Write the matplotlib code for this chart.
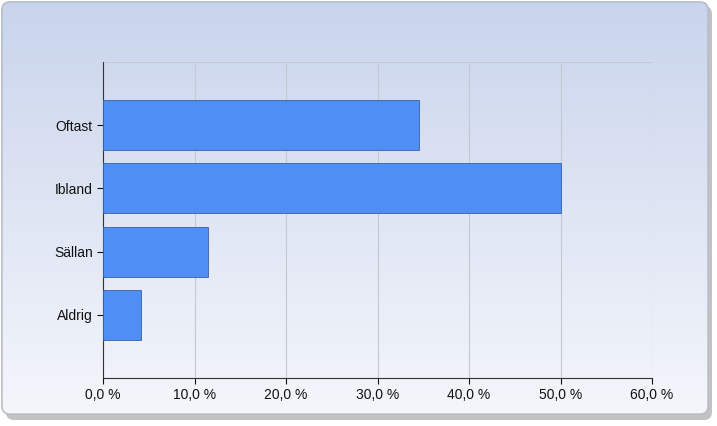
import matplotlib
matplotlib.use("Agg")
import matplotlib.pyplot as plt
import numpy as np
from matplotlib.patches import FancyBboxPatch
from matplotlib.ticker import FuncFormatter
from matplotlib.colors import LinearSegmentedColormap

plt.rcParams["font.family"] = ["Liberation Sans", "DejaVu Sans"]

categories = ["Aldrig", "Sällan", "Ibland", "Oftast"]
values = [4.1, 11.5, 50.0, 34.5]

fig = plt.figure(figsize=(7.17, 4.26), dpi=100)
bg = fig.add_axes([0, 0, 1, 1], zorder=0)
bg.set_xlim(0, 717); bg.set_ylim(426, 0); bg.axis("off")
grad = np.linspace(0, 1, 256).reshape(-1, 1)
cmap = LinearSegmentedColormap.from_list("g", ["#c9d4ec", "#f4f6fb"])
bg.add_patch(FancyBboxPatch((6, 6), 706, 414, boxstyle="round,pad=0,rounding_size=8",
                            fc="#a8a8a8", ec="none", alpha=0.7, zorder=0))
box = FancyBboxPatch((2, 2), 706, 412, boxstyle="round,pad=0,rounding_size=8",
                     fc="white", ec="#b8bcc8", lw=1, zorder=1)
bg.add_patch(box)
im = bg.imshow(grad, extent=(2, 708, 414, 2), cmap=cmap, aspect="auto", zorder=2)
im.set_clip_path(box)
bg.add_patch(FancyBboxPatch((2, 2), 706, 412, boxstyle="round,pad=0,rounding_size=8",
                            fc="none", ec="#b8bcc8", lw=1, zorder=3))

ax = fig.add_axes([103/717, 1-378/426, (652-103)/717, (378-62)/426], zorder=1)
ax.patch.set_alpha(0)
y = np.arange(1, len(categories)+1)
ax.barh(y, values, height=0.79, color="#4f8ef2", edgecolor="#3a5fa8", lw=0.6, zorder=3)
ax.set_xlim(0, 60); ax.set_ylim(0, 5)
ax.set_xticks(np.arange(0, 61, 10))
ax.xaxis.set_major_formatter(FuncFormatter(lambda v, p: f"{v:.1f} %".replace(".", ",")))
ax.set_yticks(y); ax.set_yticklabels(categories)
ax.set_yticks(np.arange(0, 6), minor=True)
ax.grid(True, which="major", axis="x", color="#c4c8d2", lw=0.8, zorder=0)
ax.grid(True, which="minor", axis="y", color="#c4c8d2", lw=0.8, zorder=0)
for s in ["top", "right"]:
    ax.spines[s].set_visible(False)
ax.spines["left"].set_color("#333333"); ax.spines["bottom"].set_color("#333333")
ax.tick_params(axis="both", labelsize=10, colors="#111111", length=4)
ax.tick_params(axis="y", which="minor", length=0)
fig.savefig("out.png", dpi=100)
